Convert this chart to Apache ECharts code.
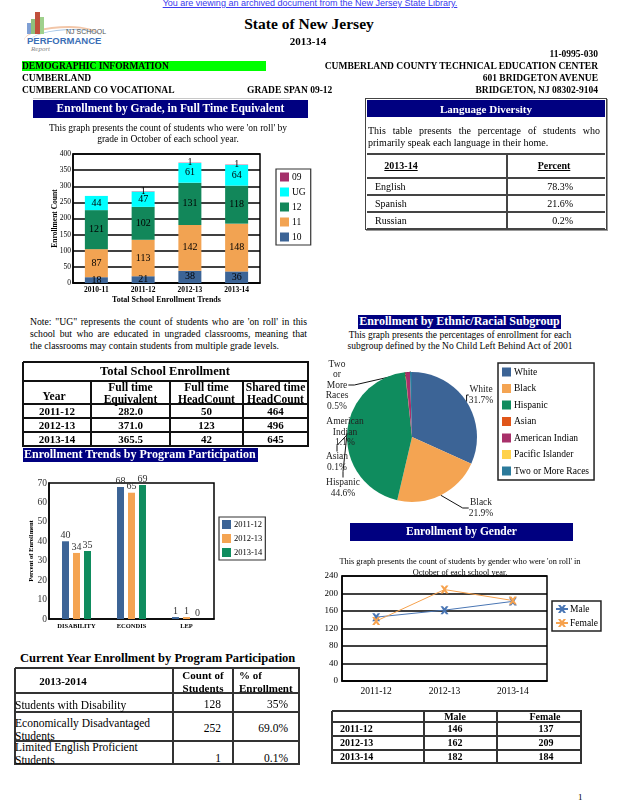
<!DOCTYPE html>
<html><head><meta charset="utf-8">
<script src="https://cdn.jsdelivr.net/npm/echarts@6/dist/echarts.min.js"></script>
<style>
html,body{margin:0;padding:0}
body{width:618px;height:800px;position:relative;overflow:hidden;background:#fff;font-family:"Liberation Serif","Times New Roman",serif;color:#000}
.ch{position:absolute}
</style></head>
<body>
<div id="c1" class="ch" style="left:30px;top:140px;width:290px;height:170px"></div>
<div id="c2" class="ch" style="left:15px;top:470px;width:255px;height:165px"></div>
<div id="c3" class="ch" style="left:320px;top:355px;width:298px;height:170px"></div>
<div id="c4" class="ch" style="left:325px;top:565px;width:293px;height:135px"></div>
<script>
// ---------- data ----------
const gradeYears = ['2010-11','2011-12','2012-13','2013-14'];
const grade10 = [18,21,38,36];
const grade11 = [87,113,142,148];
const grade12 = [121,102,131,118];
const gradeUG = [44,47,61,64];
const grade09 = [0,1,1,1];

const programCats = ['DISABILITY','ECONDIS','LEP'];
const program2011 = [40,68,1];
const program2012 = [34,65,1];
const program2013 = [35,69,0];

const ethnicNames = ['White','Black','Hispanic','Asian','American Indian','Pacific Islander','Two or More Races'];
const ethnicLabelNames = ['White','Black','Hispanic','Asian','American\nIndian','Pacific Islander','Two\nor\nMore\nRaces'];
const ethnicPct = [31.7,21.9,44.6,0.1,1.1,0,0.5];

const genderYears = ['2011-12','2012-13','2013-14'];
const male = [146,162,182];
const female = [137,209,184];

const languages = ['English','Spanish','Russian'];
const languagePct = ['78.3%','21.6%','0.2%'];

const enrollYears = ['2011-12','2012-13','2013-14'];
const enrollFTE = ['282.0','371.0','365.5'];
const enrollFullHead = ['50','123','42'];
const enrollSharedHead = ['464','496','645'];

const programRows = ['Students with Disability','Economically Disadvantaged\nStudents','Limited English Proficient\nStudents'];
const programCounts = ['128','252','1'];
const programPct = ['35%','69.0%','0.1%'];

// ---------- helpers ----------
function T(s, x, y, o) {
  o = o || {};
  const d = document.createElement('div');
  const fs = o.fs || 10, lh = o.lh || Math.round(fs * 1.15 * 10) / 10;
  const n = s.split('\n').length;
  d.textContent = s;
  let css = 'position:absolute;white-space:pre;font-size:' + fs + 'px;line-height:' + lh + 'px;top:' + (y - lh * n / 2) + 'px;font-weight:' + (o.b ? 'bold' : 'normal') + ';color:' + (o.c || '#000') + ';';
  const al = o.al || 'left';
  if (al === 'left') css += 'left:' + x + 'px;';
  else if (al === 'right') css += 'right:' + (618 - x) + 'px;text-align:right;';
  else css += 'left:' + (x - 300) + 'px;width:600px;text-align:center;';
  if (o.u) css += 'text-decoration:underline;';
  if (o.ff) css += 'font-family:' + o.ff + ';';
  if (o.i) css += 'font-style:italic;';
  d.style.cssText = css;
  document.body.appendChild(d);
  return d;
}
function J(s, x, y, w, fs) {
  const d = document.createElement('div');
  const lh = fs * 1.15;
  d.textContent = s;
  d.style.cssText = 'position:absolute;white-space:nowrap;left:' + x + 'px;width:' + w + 'px;top:' + (y - lh / 2) + 'px;font-size:' + fs + 'px;line-height:' + lh + 'px;text-align:justify;text-align-last:justify;';
  document.body.appendChild(d);
}
function R(x, y, w, h, c, extra) {
  const d = document.createElement('div');
  d.style.cssText = 'position:absolute;left:' + x + 'px;top:' + y + 'px;width:' + w + 'px;height:' + h + 'px;background:' + c + ';' + (extra || '');
  document.body.appendChild(d);
  return d;
}
function grid(xs, ys, lw, col, vFrom) {
  ys.forEach(y => R(xs[0], y - lw / 2, xs[xs.length - 1] - xs[0] + lw / 2, lw, col));
  xs.forEach((x, i) => {
    const top = (i === 0 || i === xs.length - 1) ? ys[0] : (vFrom != null ? vFrom : ys[0]);
    R(x - lw / 2, top, lw, ys[ys.length - 1] - top + lw / 2, col);
  });
}

// ---------- header ----------
T('You are viewing an archived document from the New Jersey State Library.', 310, 3, {al:'center', fs:9, ff:'"Liberation Sans",Arial,sans-serif', c:'#3a3aee', u:true});
// logo
R(24, 26, 75, 22, 'transparent', 'border-top:2px solid #f2c6a8;border-radius:60% 40% 0 0;');
R(30, 29, 72, 20, 'transparent', 'border-top:1.5px solid #a8c8e8;border-radius:60% 40% 0 0;');
R(27, 23, 4, 11, '#7f9fd4');
R(31, 19, 4, 15, '#8fc07c');
R(35, 12, 5, 22, '#c0503c');
R(40, 17, 4, 17, '#9fd08c');
T('NJ SCHOOL', 66, 32, {fs:7, ff:'"Liberation Sans",Arial,sans-serif', c:'#555'});
T('PERFORMANCE', 27, 41, {fs:9.5, b:1, ff:'"Liberation Sans",Arial,sans-serif', c:'#3b6fb6'});
T('Report', 31, 49, {fs:7, i:1, c:'#888'});

T('State of New Jersey', 309, 24, {al:'center', fs:15.5, b:1});
T('2013-14', 308, 41, {al:'center', fs:11, b:1});
T('11-0995-030', 598, 54, {al:'right', fs:9.5, b:1});
R(22, 61, 244, 10, '#00ff00');
T('DEMOGRAPHIC INFORMATION', 22, 66, {fs:9.5, b:1});
T('CUMBERLAND COUNTY TECHNICAL EDUCATION CENTER', 598, 66, {al:'right', fs:9.5, b:1});
T('CUMBERLAND', 22, 78, {fs:9.5, b:1});
T('601 BRIDGETON AVENUE', 598, 78, {al:'right', fs:9.5, b:1});
T('CUMBERLAND CO VOCATIONAL', 22, 90, {fs:9.5, b:1});
T('GRADE SPAN 09-12', 247, 90, {fs:9.5, b:1});
T('BRIDGETON, NJ 08302-9104', 598, 90, {al:'right', fs:9.5, b:1});

// ---------- left panel ----------
R(33, 98, 257, 1, '#c8c8c8');
R(33, 100, 275, 18, '#000080');
T('Enrollment by Grade, in Full Time Equivalent', 170.5, 109, {al:'center', fs:11.5, b:1, c:'#fff'});
T("This graph presents the count of students who were 'on roll' by", 168, 128, {al:'center', fs:9.5});
T('grade in October of each school year.', 168, 139.5, {al:'center', fs:9.5});

J('Note: "UG" represents the count of students who are \'on roll\'  in this', 30, 322, 277, 9.7);
J('school but who are educated in ungraded classrooms, meaning that', 30, 334, 277, 9.7);
T('the classrooms may contain students from multiple grade levels.', 30, 346, {fs:9.7});

// total enrollment table
(function(){
  const xs = [23, 91, 170, 243, 308];
  const ys = [362, 381, 404, 418, 432, 446];
  grid(xs, ys, 2, '#111', 381);
  T('Total School Enrollment', 165, 371.5, {al:'center', fs:12.5, b:1});
  const cx = [57, 130.5, 206.5, 275.5];
  T('Year', 54, 397, {al:'center', fs:11.5, b:1});
  T('Full time\nEquivalent', cx[1], 393, {al:'center', fs:11.5, b:1, lh:12});
  T('Full time\nHeadCount', cx[2], 393, {al:'center', fs:11.5, b:1, lh:12});
  T('Shared time\nHeadCount', cx[3], 393, {al:'center', fs:11.5, b:1, lh:12});
  enrollYears.forEach((yr, i) => {
    const yc = 411 + i * 14;
    T(yr, cx[0], yc, {al:'center', fs:11, b:1});
    T(enrollFTE[i], cx[1], yc, {al:'center', fs:11, b:1});
    T(enrollFullHead[i], cx[2], yc, {al:'center', fs:11, b:1});
    T(enrollSharedHead[i], cx[3], yc, {al:'center', fs:11, b:1});
  });
})();

R(23, 448, 235, 14, '#000080');
T('Enrollment Trends by Program Participation', 24, 455, {fs:12, b:1, c:'#fff'});

// current year table
T('Current Year Enrollment by Program Participation', 20, 658, {fs:12.5, b:1});
(function(){
  const xs = [15, 173, 233, 299];
  const ys = [668, 693, 712, 741, 764];
  grid(xs, ys, 1.5, '#333');
  T('2013-2014', 63, 681, {al:'center', fs:11, b:1});
  T('Count of\nStudents', 203, 681.5, {al:'center', fs:11, b:1, lh:12.5});
  T('% of\nEnrollment', 239, 681.5, {fs:11, b:1, lh:12.5});
  const yRow = [705, 729.5, 753.5];
  const yNum = [705, 729, 759];
  programRows.forEach((r, i) => {
    T(r, 15, yRow[i], {fs:11.5, lh:12.5});
    T(programCounts[i], 221, yNum[i], {al:'right', fs:11.5});
    T(programPct[i], 288, yNum[i], {al:'right', fs:11.5});
  });
})();

// ---------- right panel ----------
R(365, 98, 242, 132, '#fff', 'box-sizing:border-box;border:1.5px solid #444;box-shadow:1px 1px 0 #999;');
R(367, 100, 238, 17, '#000080');
T('Language Diversity', 486, 109, {al:'center', fs:11, b:1, c:'#fff'});
J('This table presents the percentage of students who', 368, 131, 232, 10);
T('primarily speak each language in their home.', 368, 143, {fs:10});
(function(){
  const ys = [154, 178, 195, 212, 229];
  ys.forEach(y => R(367, y - 1, 238, 2, '#444'));
  R(506, 154, 2, 75, '#444');
  T('2013-14', 401, 166, {al:'center', fs:10, b:1, u:true});
  T('Percent', 554, 166, {al:'center', fs:10, b:1, u:true});
  languages.forEach((l, i) => {
    const yc = 186.5 + i * 17;
    T(l, 375, yc, {fs:10});
    T(languagePct[i], 573, yc, {al:'right', fs:10});
  });
})();

R(358, 315, 203, 14, '#000080');
T('Enrollment by Ethnic/Racial Subgroup', 459.5, 322, {al:'center', fs:12, b:1, c:'#fff'});
T('This graph presents the percentages of enrollment for each', 460, 335, {al:'center', fs:9.5});
T('subgroup defined by the No Child Left Behind Act of 2001', 460, 346.5, {al:'center', fs:9.5});

R(350, 523, 223, 18, '#000080');
T('Enrollment by Gender', 461.5, 532, {al:'center', fs:11.5, b:1, c:'#fff'});
T("This graph presents the count of students by gender who were 'on roll' in", 460, 562, {al:'center', fs:8.3});
T('October of each school year.', 460, 572.5, {al:'center', fs:8.3});

// gender table
(function(){
  const xs = [332, 424, 497, 581];
  const ys = [711, 722, 736, 750, 763];
  grid(xs, ys, 1.5, '#333');
  T('Male', 455, 716.5, {al:'center', fs:10, b:1});
  T('Female', 545, 716.5, {al:'center', fs:10, b:1});
  genderYears.forEach((yr, i) => {
    const yc = 729 + i * 13.7;
    T(yr, 340, yc, {fs:10, b:1});
    T(String(male[i]), 455, yc, {al:'center', fs:10, b:1});
    T(String(female[i]), 546, yc, {al:'center', fs:10, b:1});
  });
})();

T('1', 578, 797, {fs:9, c:'#000'});

// ---------- charts ----------
const SERIF = 'Liberation Serif';
const cGrade = {g10:'#3c6496', g11:'#f2a352', g12:'#12875a', gUG:'#00ffff', g09:'#a4306a'};

const ch1 = echarts.init(document.getElementById('c1'));
const gLabel = (pos) => ({show:true, position:pos, color:'#000', fontSize:10, fontFamily:SERIF,
  formatter: p => p.value ? String(p.value) : ''});
ch1.setOption({
  animation:false,
  textStyle:{fontFamily:SERIF},
  grid:{left:43, top:14, width:187, height:129, show:true, borderColor:'#000', borderWidth:1.5, outerBoundsMode:'none'},
  legend:{orient:'vertical', left:246, top:29, data:['09','UG','12','11','10'], itemWidth:9, itemHeight:9, itemGap:5,
    padding:[3,5,3,4], borderColor:'#333', borderWidth:1.2, backgroundColor:'#fff', icon:'rect',
    textStyle:{fontFamily:SERIF, fontSize:9.5, color:'#000', padding:[0,0,0,-2]}},
  xAxis:{type:'category', data:gradeYears, axisTick:{show:false}, axisLine:{lineStyle:{color:'#000', width:1.5}},
    axisLabel:{color:'#000', fontSize:7.5, fontWeight:'bold', fontFamily:SERIF, margin:3},
    name:'Total School Enrollment Trends', nameLocation:'middle', nameGap:13, nameMoveOverlap:false,
    nameTextStyle:{fontSize:8, fontWeight:'bold', color:'#000', fontFamily:SERIF}},
  yAxis:{type:'value', min:0, max:400, interval:50, axisLine:{show:true, lineStyle:{color:'#000', width:1.5}},
    axisTick:{show:false}, splitLine:{lineStyle:{color:'#000', width:1.5}},
    axisLabel:{color:'#000', fontSize:7.5, fontFamily:SERIF, margin:2},
    name:'Enrollment Count', nameLocation:'middle', nameGap:14, nameRotate:90, nameMoveOverlap:false,
    nameTextStyle:{fontSize:7.5, fontWeight:'bold', color:'#000', fontFamily:SERIF}},
  series:[
    {name:'10', type:'bar', stack:'a', data:grade10, barWidth:23, itemStyle:{color:cGrade.g10}, label:gLabel('inside')},
    {name:'11', type:'bar', stack:'a', data:grade11, itemStyle:{color:cGrade.g11}, label:gLabel('inside')},
    {name:'12', type:'bar', stack:'a', data:grade12, itemStyle:{color:cGrade.g12}, label:gLabel('inside')},
    {name:'UG', type:'bar', stack:'a', data:gradeUG, itemStyle:{color:cGrade.gUG}, label:gLabel('inside')},
    {name:'09', type:'bar', stack:'a', data:grade09, itemStyle:{color:cGrade.g09}, label:gLabel('inside')}
  ]
});

const ch2 = echarts.init(document.getElementById('c2'));
const pLabel = {show:true, position:'top', distance:1, color:'#333', fontSize:10, fontFamily:SERIF};
ch2.setOption({
  animation:false,
  textStyle:{fontFamily:SERIF},
  grid:{left:34, top:13, width:165, height:136, show:true, borderColor:'#000', borderWidth:1.5, outerBoundsMode:'none'},
  legend:{orient:'vertical', left:204, top:47, itemWidth:9, itemHeight:9, itemGap:5, padding:[3,3,3,3],
    borderColor:'#333', borderWidth:1.2, icon:'rect',
    textStyle:{fontFamily:SERIF, fontSize:8.5, color:'#000', padding:[0,0,0,-2]}},
  xAxis:{type:'category', data:programCats, axisTick:{show:false}, axisLine:{lineStyle:{color:'#000', width:1.5}},
    axisLabel:{color:'#000', fontSize:6.5, fontWeight:'bold', fontFamily:SERIF, margin:4}},
  yAxis:{type:'value', min:0, max:70, interval:10, splitLine:{show:false},
    axisLine:{show:true, lineStyle:{color:'#000', width:1.5}}, axisTick:{show:false},
    axisLabel:{color:'#333', fontSize:9.5, fontFamily:SERIF, margin:2},
    name:'Percent of Enrollment', nameLocation:'middle', nameGap:14, nameRotate:90, nameMoveOverlap:false,
    nameTextStyle:{fontSize:6.5, fontWeight:'bold', color:'#000', fontFamily:SERIF}},
  series:[
    {name:'2011-12', type:'bar', data:program2011, barWidth:7, barGap:'57%', itemStyle:{color:'#3c6496'}, label:pLabel},
    {name:'2012-13', type:'bar', data:program2012, barWidth:7, barGap:'57%', itemStyle:{color:'#f4a452'}, label:pLabel},
    {name:'2013-14', type:'bar', data:program2013, barWidth:7, barGap:'57%', itemStyle:{color:'#0f8c5e'}, label:pLabel}
  ]
});

const ch3 = echarts.init(document.getElementById('c3'));
const pieColors = ['#3c6496','#f4a452','#0f8c5e','#e0561a','#a8306a','#ffd24a','#2b7a9b'];
const pieLabelPos = [[161,40],[161,153],[23,133],[17,107],[25,77],[0,0],[17,30]];
ch3.setOption({
  animation:false,
  textStyle:{fontFamily:SERIF},
  color:pieColors,
  legend:{orient:'vertical', left:178, top:8, itemWidth:9, itemHeight:9, itemGap:6.5, padding:[4,5,4,4],
    borderColor:'#222', borderWidth:1.5, icon:'rect', data:ethnicNames,
    textStyle:{fontFamily:SERIF, fontSize:9.5, color:'#000', padding:[0,0,0,-2]}},
  series:[{
    type:'pie', center:[92,82], radius:65, startAngle:90, clockwise:true,
    data:ethnicNames.map((n, i) => ({name:n, value:ethnicPct[i],
      label:{show:ethnicPct[i] > 0}, labelLine:{show:ethnicPct[i] > 0}})),
    label:{color:'#222', fontSize:9.5, lineHeight:10.5, fontFamily:SERIF, overflow:'none', width:null,
      formatter: p => ethnicLabelNames[p.dataIndex] + '\n' + p.value + '%'},
    labelLine:{lineStyle:{color:'#111', width:1}, length:6, length2:6},
    labelLayout: p => {
      const q = pieLabelPos[p.dataIndex];
      return {x:q[0], y:q[1], align:'center', verticalAlign:'middle'};
    },
    itemStyle:{borderWidth:0}
  }]
});

const ch4 = echarts.init(document.getElementById('c4'));
const xMark = 'path://M0,0 L3,0 L5,2.5 L7,0 L10,0 L6.5,5 L10,10 L7,10 L5,7.5 L3,10 L0,10 L3.5,5 Z';
ch4.setOption({
  animation:false,
  textStyle:{fontFamily:SERIF},
  grid:{left:17, top:11, width:205, height:105, show:true, borderColor:'#000', borderWidth:1.5, outerBoundsMode:'none'},
  legend:{orient:'vertical', left:227, top:36, itemWidth:12, itemHeight:10, itemGap:4, padding:[3,3,3,3],
    borderColor:'#222', borderWidth:1.5,
    textStyle:{fontFamily:SERIF, fontSize:9.5, color:'#000', padding:[0,0,0,-3]}},
  xAxis:{type:'category', data:genderYears, axisTick:{show:false}, axisLine:{lineStyle:{color:'#000', width:1.5}},
    axisLabel:{color:'#000', fontSize:9.5, fontFamily:SERIF, margin:5}},
  yAxis:{type:'value', min:0, max:240, interval:40, axisLine:{show:true, lineStyle:{color:'#000', width:1.5}},
    axisTick:{show:false}, splitLine:{lineStyle:{color:'#000', width:1.5}},
    axisLabel:{color:'#000', fontSize:9, fontFamily:SERIF, margin:4}},
  series:[
    {name:'Male', type:'line', data:male, symbol:xMark, symbolSize:8, color:'#4a76b4', lineStyle:{width:1}},
    {name:'Female', type:'line', data:female, symbol:xMark, symbolSize:8, color:'#f6a24e', lineStyle:{width:1}}
  ]
});
</script>
</body></html>
